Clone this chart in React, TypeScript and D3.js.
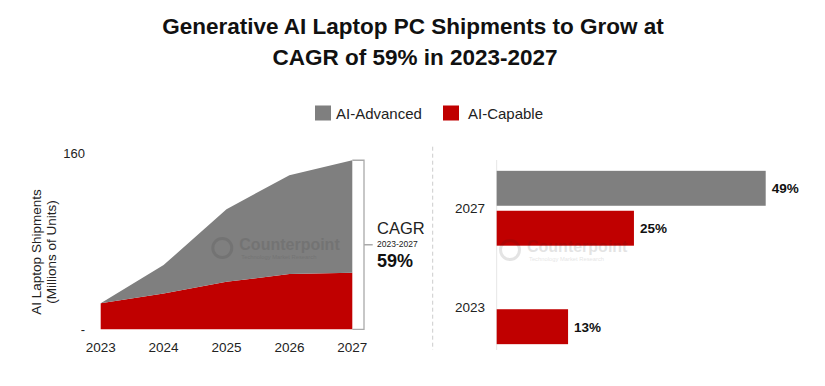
import React from "react";
import * as d3 from "d3";

const years = ["2023", "2024", "2025", "2026", "2027"];
const aiCapable = [23.5, 32.5, 43, 50, 51.2];
const aiAdvanced = [0, 25.6, 65.7, 89.5, 101.8];
const yTicks = [0, 160];

const barCategories = ["2027", "2023"];
const barSeries = ["AI-Advanced", "AI-Capable"];
const barAdvanced = [49, 0];
const barCapable = [25, 13];

const GRAY = "#7f7f7f";
const RED = "#c00000";
const FONT = "'Liberation Sans', Arial, Helvetica, sans-serif";

const W = 825;
const H = 386;

const Watermark = ({ x, y }: { x: number; y: number }) => (
  <g opacity={0.12} fill="#222">
    <circle cx={x} cy={y} r={9.5} fill="none" stroke="#222" strokeWidth={3} />
    <text x={x + 17} y={y + 2} fontSize={16} fontWeight="bold">Counterpoint</text>
    <text x={x + 19} y={y + 11} fontSize={5.8}>Technology Market Research</text>
  </g>
);

const App = () => {
  // left area chart
  const x = d3.scalePoint().domain(years).range([100.7, 352.3]);
  const y = d3.scaleLinear().domain([0, 160]).range([329.3, 152.5]);

  const rows = years.map((yr, i) => ({
    year: yr,
    capable: aiCapable[i],
    advanced: aiAdvanced[i],
  }));
  const stacked = d3.stack().keys(["capable", "advanced"])(rows as any);
  const area = d3
    .area<any>()
    .x((d) => x(d.data.year) as number)
    .y0((d) => y(d[0]))
    .y1((d) => y(d[1]));
  const colors: Record<string, string> = { capable: RED, advanced: GRAY };

  const total2027 = aiCapable[4] + aiAdvanced[4];
  const bx = x("2027") as number;
  const bracketX = bx + 11.7;
  const bTop = y(total2027);
  const bBot = y(0);
  const bMid = (bTop + bBot) / 2;

  // right bar chart
  const yb = d3
    .scaleBand()
    .domain(barCategories)
    .range([160, 355])
    .paddingInner(0.24)
    .paddingOuter(0.11);
  const yInner = d3
    .scaleBand()
    .domain(barSeries)
    .range([0, yb.bandwidth()])
    .paddingInner(0.125);
  const xb = d3.scaleLinear().domain([0, 49]).range([496.7, 765.7]);

  const bars: { cat: string; series: string; value: number; color: string }[] = [];
  barCategories.forEach((c, i) => {
    if (barAdvanced[i] > 0)
      bars.push({ cat: c, series: "AI-Advanced", value: barAdvanced[i], color: GRAY });
    bars.push({ cat: c, series: "AI-Capable", value: barCapable[i], color: RED });
  });

  return (
    <svg
      width={W}
      height={H}
      style={{ position: "absolute", left: 0, top: 0, background: "#fff" }}
      fontFamily={FONT}
    >
      <rect width={W} height={H} fill="#fff" />
      {/* title */}
      <text x={413} y={34} textAnchor="middle" fontSize={22.5} fontWeight="bold" fill="#111">
        Generative AI Laptop PC Shipments to Grow at
      </text>
      <text x={415} y={64.5} textAnchor="middle" fontSize={22.5} fontWeight="bold" fill="#111">
        CAGR of 59% in 2023-2027
      </text>

      {/* legend */}
      <rect x={315} y={105.5} width={16} height={15} fill={GRAY} />
      <text x={336} y={118.5} fontSize={15} fill="#222">AI-Advanced</text>
      <rect x={443} y={105.5} width={16} height={15} fill={RED} />
      <text x={468} y={118.5} fontSize={15} fill="#222">AI-Capable</text>

      {/* left chart areas */}
      {stacked.map((s) => (
        <path key={s.key} d={area(s as any) as string} fill={colors[s.key]} />
      ))}

      {/* y axis labels */}
      {yTicks.map((t) => (
        <text key={t} x={85} y={y(t) + 5} textAnchor="end" fontSize={13} fill="#222">
          {t === 0 ? "-" : t}
        </text>
      ))}
      <text
        transform={`translate(44,252) rotate(-90)`}
        textAnchor="middle"
        fontSize={13.5}
        fill="#222"
      >
        <tspan x={0} dy={-3}>AI Laptop Shipments</tspan>
        <tspan x={0} dy={15}>(Millions of Units)</tspan>
      </text>

      {/* x axis labels */}
      {years.map((yr) => (
        <text key={yr} x={x(yr)} y={351.5} textAnchor="middle" fontSize={13.5} fill="#222">
          {yr}
        </text>
      ))}

      {/* CAGR bracket */}
      <path
        d={`M${bx},${bTop}H${bracketX}V${bBot}H${bx}M${bracketX},${bMid}H${bracketX + 8.7}`}
        fill="none"
        stroke="#aaa"
        strokeWidth={1.3}
      />
      <text x={377} y={234} fontSize={16.5} fill="#222">CAGR</text>
      <text x={377} y={246.5} fontSize={8.5} fill="#222">2023-2027</text>
      <text x={377} y={267} fontSize={18} fontWeight="bold" fill="#111">59%</text>

      {/* divider */}
      <line x1={432.7} x2={432.7} y1={146.7} y2={350} stroke="#ccc" strokeDasharray="4,3" />

      {/* right bar chart */}
      <line x1={xb(0)} x2={xb(0)} y1={160} y2={350} stroke="#e6e6e6" />
      {barCategories.map((c) => (
        <text
          key={c}
          x={485}
          y={(yb(c) as number) + yb.bandwidth() / 2 + 5}
          textAnchor="end"
          fontSize={13.5}
          fill="#222"
        >
          {c}
        </text>
      ))}
      {bars.map((b) => {
        const by = (yb(b.cat) as number) + (yInner(b.series) as number);
        return (
          <g key={b.cat + b.series}>
            <rect
              x={xb(0)}
              y={by}
              width={xb(b.value) - xb(0)}
              height={yInner.bandwidth()}
              fill={b.color}
            />
            <text
              x={xb(b.value) + 6}
              y={by + yInner.bandwidth() / 2 + 5}
              fontSize={13.5}
              fontWeight="bold"
              fill="#111"
            >
              {b.value}%
            </text>
          </g>
        );
      })}

      {/* watermarks */}
      <Watermark x={222.3} y={248} />
      <Watermark x={510} y={250} />
    </svg>
  );
};

export default App;
